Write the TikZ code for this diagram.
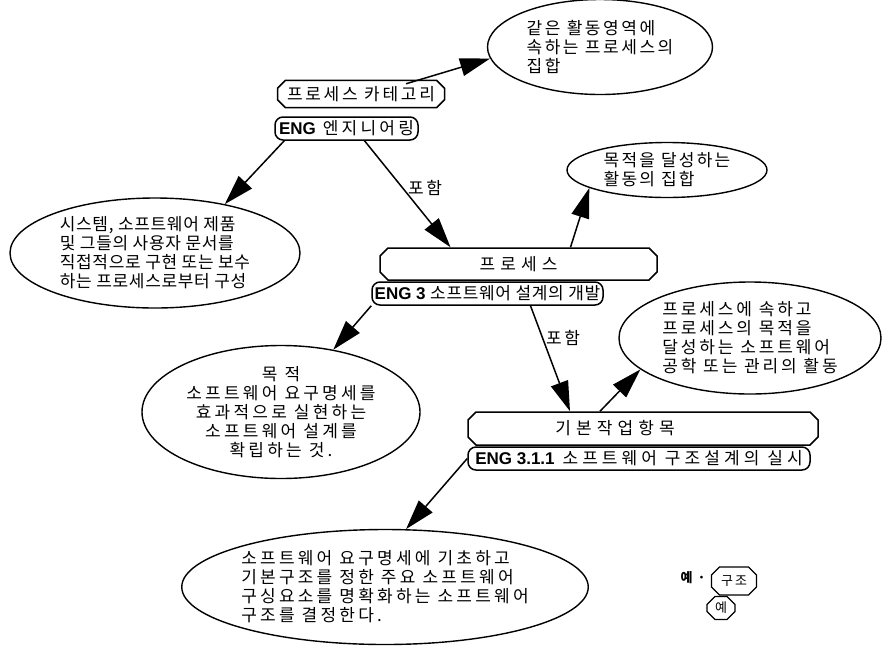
\documentclass[tikz,border=0pt]{standalone}
\usepackage{fontspec}
\setmainfont[LetterSpace=16]{Noto Sans CJK KR}
\newfontfamily\krA[LetterSpace=4]{Noto Sans CJK KR}
\newfontfamily\krM[LetterSpace=13]{Noto Sans CJK KR}
\newfontfamily\krN[LetterSpace=15]{Noto Sans CJK KR}
\newfontfamily\krB[LetterSpace=17]{Noto Sans CJK KR}
\newfontfamily\krC[LetterSpace=19]{Noto Sans CJK KR}
\newfontfamily\krD[LetterSpace=24]{Noto Sans CJK KR}
\newfontfamily\krE[LetterSpace=30]{Noto Sans CJK KR}
\newfontfamily\engf{Liberation Sans}
\usetikzlibrary{shapes.geometric,shapes.misc,arrows.meta}
\newcommand{\eng}[1]{{\engf\bfseries #1}}
\newcommand{\fsz}{\fontsize{17}{19}}
\begin{document}
\begin{tikzpicture}[x=1pt,y=-1pt,
  every node/.style={font=\fsz\selectfont},
  catbox/.style={draw, chamfered rectangle, chamfered rectangle xsep=4pt, chamfered rectangle ysep=4pt, line width=1.5pt, inner sep=2pt},
  engbox/.style={draw, rectangle, rounded corners=8pt, line width=1.5pt, inner sep=2pt},
  ell/.style={draw, ellipse, line width=1.4pt, inner sep=0pt, align=left},
  lbl/.style={inner sep=1pt},
  arr/.style={line width=1.5pt, -{Triangle[length=30pt,width=18pt]}},
  smallbox/.style={draw, chamfered rectangle, chamfered rectangle xsep=4pt, chamfered rectangle ysep=4pt, line width=1.3pt, inner sep=1pt, font=\fontsize{13}{15}\selectfont}
]
\useasboundingbox (0,0) rectangle (889,649);

% boxes
\node[catbox, minimum width=167, minimum height=22] (cat) at (361,94) {프로세스 카테고리};
\node[engbox, minimum width=143, minimum height=23, font=\fsz\krC] (eng1) at (346.5,128.5) {\eng{ENG} 엔지니어링};
\node[catbox, minimum width=277, minimum height=32, font=\fsz\krE] (proc) at (518.5,264) {프로세스};
\node[engbox, minimum width=231, minimum height=23, font=\fsz\krA] (eng3) at (487.5,293.5) {\eng{ENG 3} 소프트웨어 설계의 개발};
\node[catbox, minimum width=350, minimum height=33, font=\fsz\krE] (task) at (643,428.5) {기본작업항목\hspace*{56pt}};
\node[engbox, minimum width=342, minimum height=23, font=\fsz\krD] (eng311) at (639,458.5) {\eng{ENG 3.1.1} 소프트웨어 구조설계의 실시};

% ellipses
\node[ell, minimum width=225, minimum height=95, font=\fsz\krN] (e1) at (600,47) {같은 활동영역에\\속하는 프로세스의\\집합};
\node[ell, minimum width=290, minimum height=110, font=\fsz\krA] (e2) at (155,253) {시스템, 소프트웨어 제품\\및 그들의 사용자 문서를\\직접적으로 구현 또는 보수\\하는 프로세스로부터 구성};
\node[ell, minimum width=200, minimum height=55, font=\fsz\krM] (e3) at (667,170) {목적을 달성하는\\활동의 집합};
\node[ell, minimum width=278, minimum height=133, align=center, font=\fsz\krC] (e4) at (281,412) {목 적\\소프트웨어 요구명세를\\효과적으로 실현하는\\소프트웨어 설계를\\확립하는 것.};
\node[ell, minimum width=262, minimum height=112, font=\fsz\krB] (e6) at (750,338) {프로세스에 속하고\\프로세스의 목적을\\달성하는 소프트웨어\\공학 또는 관리의 활동};
\node[ell, minimum width=400, minimum height=115, font=\fsz\krC] (e7) at (385,587) {소프트웨어 요구명세에 기초하고\\기본구조를 정한 주요 소프트웨어\\구싱요소를 명확화하는 소프트웨어\\구조를 결정한다.};

% labels
\node[lbl] (lbl1) at (425,188) {포함};
\node[lbl] (lbl2) at (563,338) {포함};

% arrows
\draw[arr] ([xshift=-35pt]cat.north east) -- (e1.186);
\draw[arr] ([xshift=10pt]eng1.south west) -- (e2.35);
\draw[arr] ([xshift=18pt]eng1.south) -- ([xshift=-68pt]proc.north);
\draw[arr] ([xshift=52pt]proc.north) -- (e3.193);
\draw[arr] (eng3.south west) -- (e4.50);
\draw[arr] ([xshift=43pt]eng3.south) -- ([xshift=-73pt]task.north);
\draw[arr] ([xshift=-43pt]task.north) -- (e6.196);
\draw[arr] (eng311.west) -- (e7.70);

% legend
\node[lbl, font=\fontsize{13}{15}\selectfont\bfseries] (lg) at (693,578) {예 ·};
\node[smallbox, minimum width=45, minimum height=28] (lb1) at (734,581) {구조};
\node[smallbox, minimum width=28, minimum height=23] (lb2) at (721,608) {예};
\end{tikzpicture}
\end{document}
